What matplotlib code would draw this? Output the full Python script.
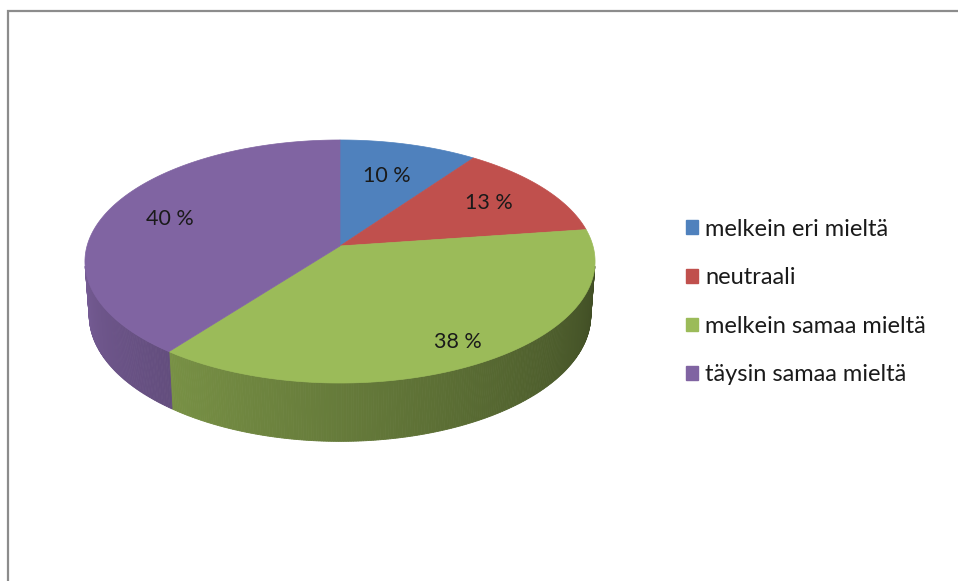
import numpy as np
import matplotlib.pyplot as plt
from matplotlib.patches import Polygon, Patch
from matplotlib.colors import to_rgb

labels = ["melkein eri mieltä", "neutraali", "melkein samaa mieltä", "täysin samaa mieltä"]
values = [10, 13, 38, 40]
colors = ["#4F81BD", "#C0504D", "#9BBB59", "#8064A2"]

plt.rcParams['font.family'] = ['Lato', 'DejaVu Sans']

# 3d view of the pie (perspective, seen from the front and above)
tilt = np.radians(28.2)
dist = 6.91
depth_h = 0.243
scale = 1748
cx, cy = 340, 246
label_r = [0.66, 0.72, 0.84, 0.73]


def project(theta, r=1.0, z=0.0):
    c, s = np.cos(tilt), np.sin(tilt)
    x = r * np.sin(theta)
    y = r * np.cos(theta)
    d = y * c - z * s + dist
    return cx + scale * x / d, cy - scale * (y * s + z * c) / d


def shade(theta):
    # darker to the right, lighter to the left
    deg = np.degrees(theta)
    return np.clip(0.41 + (deg - 100) * 0.0031, 0.3, 0.95)


fig = plt.figure(figsize=(9.58, 5.81), dpi=100)
ax = fig.add_axes([0, 0, 1, 1])
ax.set_xlim(0, 958)
ax.set_ylim(581, 0)
ax.axis("off")

frac = np.array(values, dtype=float) / sum(values)
edges = np.concatenate([[0], np.cumsum(frac)]) * 2 * np.pi

# visible part of the side wall
lim = np.arccos(-1 / (dist * np.cos(tilt)))
vis0, vis1 = lim, 2 * np.pi - lim

for i in range(len(values)):
    a0, a1 = max(edges[i], vis0), min(edges[i + 1], vis1)
    if a1 <= a0:
        continue
    n = max(int(np.degrees(a1 - a0) * 2), 2)
    ts = np.linspace(a0, a1, n + 1)
    base = np.array(to_rgb(colors[i]))
    for t0, t1 in zip(ts[:-1], ts[1:]):
        pts = [project(t0), project(t1), project(t1, z=-depth_h), project(t0, z=-depth_h)]
        col = base * shade((t0 + t1) / 2)
        ax.add_patch(Polygon(pts, closed=True, facecolor=col, edgecolor=col, lw=0.6))

for i in range(len(values)):
    ts = np.linspace(edges[i], edges[i + 1], max(int(np.degrees(edges[i + 1] - edges[i])), 2) + 1)
    pts = [project(0, r=0)] + [project(t) for t in ts]
    ax.add_patch(Polygon(pts, closed=True, facecolor=colors[i], edgecolor=colors[i], lw=0.5))

for i, v in enumerate(values):
    mid = (edges[i] + edges[i + 1]) / 2
    x, y = project(mid, r=label_r[i])
    ax.text(x, y, f"{v} %", ha="center", va="center", fontsize=15.5, color="#1a1a1a")

handles = [Patch(facecolor=c, edgecolor=c) for c in colors]
ax.legend(handles, labels, loc="center left", bbox_to_anchor=(686 / 958, 1 - 302 / 581),
          frameon=False, fontsize=17, borderpad=0, borderaxespad=0,
          handlelength=0.5, handleheight=0.5, handletextpad=0.3, labelspacing=1.17,
          labelcolor="#1a1a1a")

# chart area border (only left and top are inside the picture)
ax.plot([8, 8, 958], [581, 11, 11], color="#8C8C8C", lw=1.6, solid_joinstyle="miter")

fig.savefig("out.png", dpi=100)
